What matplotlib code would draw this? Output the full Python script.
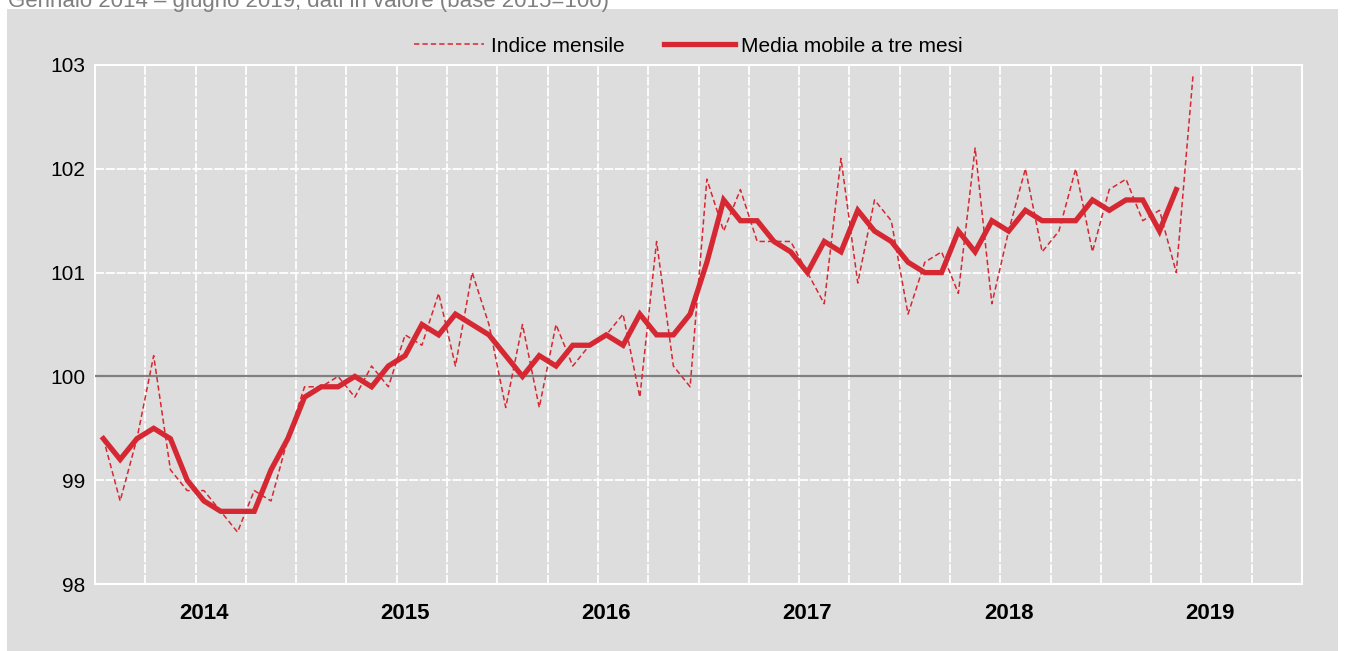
import numpy as np
import matplotlib.pyplot as plt
from matplotlib.patches import Rectangle

# Indice mensile, gennaio 2014 - giugno 2019 (base 2015=100)
indice = [
    99.4, 98.8, 99.4, 100.2, 99.1, 98.9, 98.9, 98.7, 98.5, 98.9, 98.8, 99.4,
    99.9, 99.9, 100.0, 99.8, 100.1, 99.9, 100.4, 100.3, 100.8, 100.1, 101.0, 100.5,
    99.7, 100.5, 99.7, 100.5, 100.1, 100.3, 100.4, 100.6, 99.8, 101.3, 100.1, 99.9,
    101.9, 101.4, 101.8, 101.3, 101.3, 101.3, 101.0, 100.7, 102.1, 100.9, 101.7, 101.5,
    100.6, 101.1, 101.2, 100.8, 102.2, 100.7, 101.4, 102.0, 101.2, 101.4, 102.0, 101.2,
    101.8, 101.9, 101.5, 101.6, 101.0, 102.9,
]

# Media mobile a tre mesi
media_mobile = [
    99.4, 99.2, 99.4, 99.5, 99.4, 99.0, 98.8, 98.7, 98.7, 98.7, 99.1, 99.4,
    99.8, 99.9, 99.9, 100.0, 99.9, 100.1, 100.2, 100.5, 100.4, 100.6, 100.5, 100.4,
    100.2, 100.0, 100.2, 100.1, 100.3, 100.3, 100.4, 100.3, 100.6, 100.4, 100.4, 100.6,
    101.1, 101.7, 101.5, 101.5, 101.3, 101.2, 101.0, 101.3, 101.2, 101.6, 101.4, 101.3,
    101.1, 101.0, 101.0, 101.4, 101.2, 101.5, 101.4, 101.6, 101.5, 101.5, 101.5, 101.7,
    101.6, 101.7, 101.7, 101.4, 101.8,
]

anni = ['2014', '2015', '2016', '2017', '2018', '2019']
n_mesi = 72  # asse da gennaio 2014 a dicembre 2019

plt.rcParams['font.family'] = ['Liberation Sans Narrow', 'Liberation Sans', 'DejaVu Sans']

rosso = '#D62832'
grigio = '#DDDDDD'

fig = plt.figure(figsize=(13.45, 6.51), dpi=100)
W, H = 1345, 651

# pannello grigio di sfondo
fig.patches.append(Rectangle((7 / W, 0), 1331 / W, 1 - 9 / H,
                             transform=fig.transFigure, facecolor=grigio,
                             edgecolor='none', zorder=-5))

# titolo tagliato in alto, come nell'originale
fig.text(8 / W, 1 - 7 / H, 'Gennaio 2014 \u2013 giugno 2019; dati in valore (base 2015=100)',
         fontsize=16, color='#7f7f7f', va='baseline', ha='left')

ax = fig.add_axes([95 / W, 1 - 584 / H, 1207 / W, 519 / H])
ax.set_facecolor(grigio)

x_ind = np.arange(len(indice))
x_mm = np.arange(len(media_mobile))

ax.plot(x_ind, indice, color=rosso, lw=1.1, ls=(0, (3.5, 2)),
        label='Indice mensile', zorder=4)
ax.plot(x_mm, media_mobile, color=rosso, lw=3.8, solid_joinstyle='miter',
        label='Media mobile a tre mesi', zorder=5)

ax.axhline(100, color='#808080', lw=1.6, zorder=3)

ax.set_xlim(-0.5, n_mesi - 0.5)
ax.set_ylim(98, 103)

# griglia verticale ogni trimestre
ax.set_xticks(np.arange(-0.5, n_mesi, 3), minor=True)
ax.set_xticks(np.arange(6, n_mesi, 12))
ax.set_xticklabels(anni, fontsize=16, fontweight='bold')
ax.tick_params(axis='x', which='both', length=0, pad=14)
ax.grid(True, which='minor', axis='x', color='white', lw=1.3, ls=(0, (5, 1)))

ax.set_yticks([98, 99, 100, 101, 102, 103])
ax.set_yticklabels(['98', '99', '100', '101', '102', '103'], fontsize=15)
ax.tick_params(axis='y', length=0, pad=7)
ax.grid(True, which='major', axis='y', color='white', lw=1.3, ls=(0, (5, 1)))

for s in ax.spines.values():
    s.set_color('white')
    s.set_linewidth(1.5)

fig.legend(loc='center', bbox_to_anchor=(688 / W, 1 - 46 / H), ncol=2,
           frameon=False, fontsize=15, handlelength=3.4, columnspacing=1.9,
           handletextpad=0.3)

fig.savefig('out.png', dpi=100)
